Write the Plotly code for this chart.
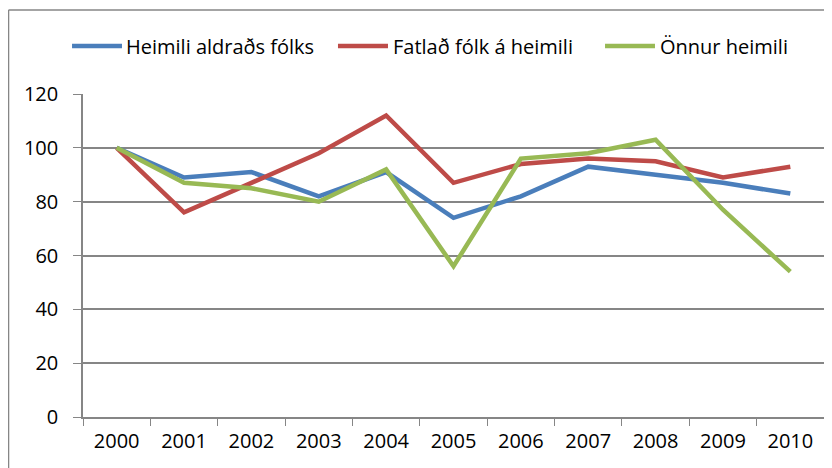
import plotly.graph_objects as go

years = ["2000", "2001", "2002", "2003", "2004", "2005", "2006", "2007", "2008", "2009", "2010"]
heimili_aldrads = [100, 89, 91, 82, 91, 74, 82, 93, 90, 87, 83]
fatlad_folk = [100, 76, 87, 98, 112, 87, 94, 96, 95, 89, 93]
onnur_heimili = [100, 87, 85, 80, 92, 56, 96, 98, 103, 77, 54]
series_names = ["Heimili aldraðs fólks", "Fatlað fólk á heimili", "Önnur heimili"]
y_ticks = [0, 20, 40, 60, 80, 100, 120]

colors = ["#4A7EBB", "#BE4B48", "#98B954"]
FONT = "Open Sans, DejaVu Sans, sans-serif"

fig = go.Figure()
for name, vals, c in zip(series_names, [heimili_aldrads, fatlad_folk, onnur_heimili], colors):
    fig.add_trace(go.Scatter(x=years, y=vals, name=name, mode="lines",
                             line=dict(color=c, width=4.5), showlegend=False))

fig.update_layout(
    width=824, height=460,
    margin=dict(l=75, r=8, t=86, b=51),
    paper_bgcolor="white", plot_bgcolor="white",
    font=dict(family=FONT, size=20, color="#000000"),
    xaxis=dict(type="category", range=[-0.5, 10.5], showgrid=False,
               showline=True, linecolor="#868686", linewidth=1.5,
               ticks="outside", tickson="boundaries", ticklen=7, tickcolor="#868686",
               ticklabelstandoff=5, tickfont=dict(size=20)),
    yaxis=dict(range=[0, 120], tickvals=y_ticks, showgrid=True, gridcolor="#868686", gridwidth=1.5,
               showline=True, linecolor="#868686", linewidth=1.5,
               ticks="outside", ticklen=8, tickcolor="#868686", zeroline=False,
               ticklabelstandoff=11, tickfont=dict(size=20)),
)

# custom legend (line samples + labels) placed as in the reference
legend_pos = [(-0.0148, 0.0526, 0.0553), (0.3441, 0.4116, 0.4157), (0.7045, 0.7719, 0.7760)]
ly = 1.1486
for (x0, x1, xt), name, c in zip(legend_pos, series_names, colors):
    fig.add_shape(type="line", xref="paper", yref="paper", x0=x0, x1=x1, y0=ly, y1=ly,
                  line=dict(color=c, width=4.5))
    fig.add_annotation(xref="paper", yref="paper", x=xt, y=ly, text=name, showarrow=False,
                       xanchor="left", yanchor="middle", font=dict(size=20, family=FONT))

# chart outer border (left and top edges visible)
fig.add_shape(type="line", xref="paper", yref="paper", x0=-0.1005, x1=1.02, y0=1.26, y1=1.26,
              line=dict(color="#868686", width=1.5))
fig.add_shape(type="line", xref="paper", yref="paper", x0=-0.1005, x1=-0.1005, y0=-0.2, y1=1.26,
              line=dict(color="#868686", width=1.5))

fig.write_html("out.html")
